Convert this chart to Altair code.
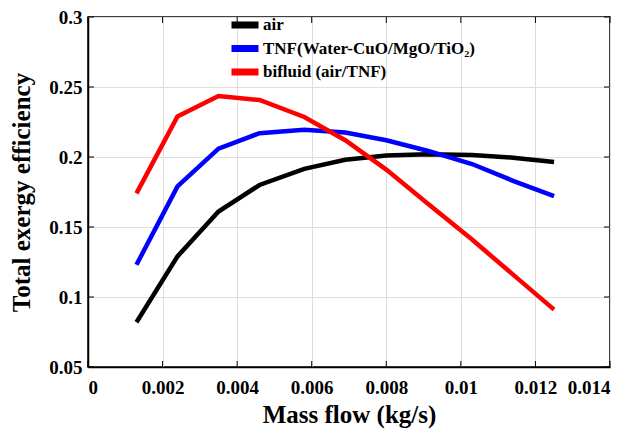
import altair as alt
import pandas as pd

mass_flow = [0.0013, 0.0024, 0.0035, 0.0046, 0.0058, 0.0069, 0.0080, 0.0091, 0.0103, 0.0114, 0.0125]
air = [0.082, 0.129, 0.161, 0.180, 0.1915, 0.198, 0.201, 0.202, 0.2015, 0.1995, 0.1965]
tnf = [0.123, 0.179, 0.206, 0.217, 0.2195, 0.2175, 0.212, 0.2045, 0.195, 0.183, 0.172]
bifluid = [0.174, 0.229, 0.2436, 0.2407, 0.2286, 0.212, 0.191, 0.167, 0.141, 0.116, 0.091]

series_names = ["air", "TNF(Water-CuO/MgO/TiO\u2082)", "bifluid (air/TNF)"]
series_colors = ["#000000", "#0000ff", "#ff0000"]
x_ticks = [0, 0.002, 0.004, 0.006, 0.008, 0.01, 0.012, 0.014]
y_ticks = [0.05, 0.1, 0.15, 0.2, 0.25, 0.3]

rows = []
for name, vals in zip(series_names, [air, tnf, bifluid]):
    for i, (x, y) in enumerate(zip(mass_flow, vals)):
        rows.append({"x": x, "y": y, "s": name, "o": i})
df = pd.DataFrame(rows)

FONT = "Liberation Serif"
xscale = alt.Scale(domain=[0, 0.014], nice=False, zero=False)
yscale = alt.Scale(domain=[0.05, 0.3], nice=False, zero=False)

swatch = "M-2.7,0L2.7,0"

lines = alt.Chart(df).mark_line(strokeWidth=4.5, clip=True).encode(
    x=alt.X("x:Q", scale=xscale, title="Mass flow (kg/s)",
            axis=alt.Axis(values=x_ticks, format="~g", tickSize=0, labelPadding=11,
                          titlePadding=5)),
    y=alt.Y("y:Q", scale=yscale, title="Total exergy efficiency",
            axis=alt.Axis(values=y_ticks, format="~g", tickSize=0, labelPadding=6,
                          titlePadding=14)),
    color=alt.Color("s:N", scale=alt.Scale(domain=series_names, range=series_colors),
                    legend=alt.Legend(orient="none", legendX=148.5, legendY=-0.5, title=None,
                                      symbolType=swatch, symbolSize=100,
                                      symbolStrokeWidth=7, symbolOpacity=1,
                                      labelFont=FONT, labelFontSize=17,
                                      labelFontWeight="bold", labelColor="black",
                                      rowPadding=-5.5, labelOffset=9.5, labelLimit=400)),
    order="o:Q",
)

xt = pd.DataFrame({"v": x_ticks})
yt = pd.DataFrame({"v": y_ticks})
tick_x_bottom = alt.Chart(xt).mark_rule(color="black", strokeWidth=1).encode(
    x=alt.X("v:Q", scale=xscale), y=alt.value(350), y2=alt.value(344))
tick_x_top = alt.Chart(xt).mark_rule(color="black", strokeWidth=1).encode(
    x=alt.X("v:Q", scale=xscale), y=alt.value(0), y2=alt.value(6))
tick_y_left = alt.Chart(yt).mark_rule(color="black", strokeWidth=1).encode(
    y=alt.Y("v:Q", scale=yscale), x=alt.value(0), x2=alt.value(6))
tick_y_right = alt.Chart(yt).mark_rule(color="black", strokeWidth=1).encode(
    y=alt.Y("v:Q", scale=yscale), x=alt.value(516), x2=alt.value(522))

chart = alt.layer(lines, tick_x_bottom, tick_x_top, tick_y_left, tick_y_right).properties(
    width=522, height=350,
    autosize=alt.AutoSizeParams(type="none"),
    padding={"left": 88, "top": 17, "right": 20, "bottom": 66},
).configure_view(stroke="black", strokeWidth=1.5).configure_axis(
    labelFont=FONT, labelFontSize=19, labelFontWeight="bold", labelColor="black",
    titleFont=FONT, titleFontSize=25, titleFontWeight="bold", titleColor="black",
    domainColor="black", domainWidth=1.5, gridColor="#dedede", gridWidth=1,
)

chart.save("out.html", embed_options={"renderer": "svg", "actions": False})
